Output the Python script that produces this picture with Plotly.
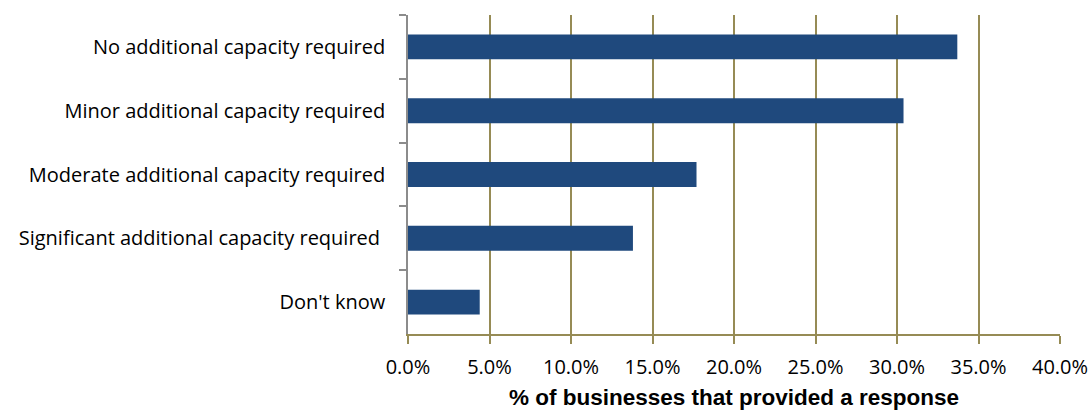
import plotly.graph_objects as go

categories = [
    "No additional capacity required",
    "Minor additional capacity required",
    "Moderate additional capacity required",
    "Significant additional capacity required ",
    "Don't know",
]
shares = [33.7, 30.4, 17.7, 13.8, 4.4]
x_ticks = [0, 5, 10, 15, 20, 25, 30, 35, 40]
x_tick_labels = ["0.0%", "5.0%", "10.0%", "15.0%", "20.0%", "25.0%", "30.0%", "35.0%", "40.0%"]

BAR = "#1F497D"
GRID = "#968B55"
AXIS_GREY = "#8C8C8C"

fig = go.Figure(
    go.Bar(
        x=shares,
        y=categories,
        orientation="h",
        width=0.39,
        marker=dict(color=BAR, line=dict(width=0)),
    )
)

fig.update_layout(
    width=1090,
    height=410,
    margin=dict(l=408, r=30, t=15, b=76),
    plot_bgcolor="white",
    paper_bgcolor="white",
    showlegend=False,
    font=dict(family="Open Sans, sans-serif", color="#000000", size=20),
)

fig.update_xaxes(
    range=[0, 40],
    tickvals=x_ticks,
    ticktext=x_tick_labels,
    automargin=False,
    showgrid=True,
    gridcolor=GRID,
    gridwidth=1.5,
    showline=True,
    linecolor=GRID,
    linewidth=1.5,
    ticks="outside",
    ticklen=8,
    tickcolor=GRID,
    tickwidth=1.5,
    ticklabelstandoff=6,
    tickfont=dict(size=20),
    zeroline=False,
    title=dict(
        text="% of businesses that provided a response",
        font=dict(family="Liberation Sans, Arial, sans-serif", size=22.5, color="#000000", weight="bold"),
        standoff=14,
    ),
)

fig.update_yaxes(
    autorange="reversed",
    automargin=False,
    showgrid=False,
    showline=True,
    linecolor=AXIS_GREY,
    linewidth=1.5,
    ticks="outside",
    tickson="boundaries",
    ticklen=7,
    tickcolor=AXIS_GREY,
    tickwidth=1.5,
    ticklabelstandoff=17,
    tickfont=dict(size=20),
)

fig.write_html("out.html")
